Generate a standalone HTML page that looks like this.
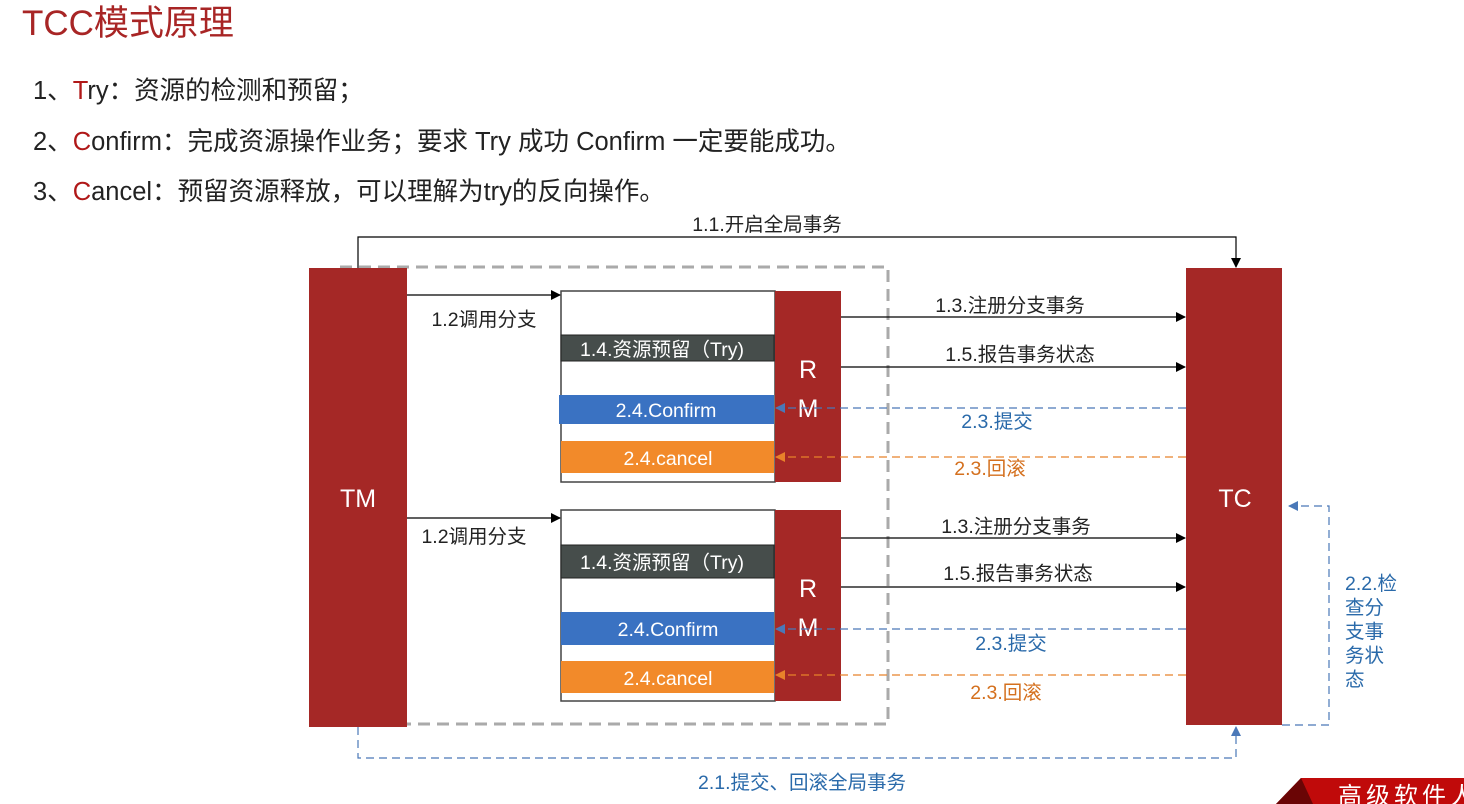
<!DOCTYPE html>
<html><head><meta charset="utf-8"><style>
html,body{margin:0;padding:0;background:#fff;}
svg{display:block;}
text{font-family:"Liberation Sans","Noto Sans CJK SC",sans-serif;}
</style></head><body>
<svg width="1464" height="804" viewBox="0 0 1464 804" xmlns="http://www.w3.org/2000/svg">
<defs>
<marker id="ab" markerWidth="10" markerHeight="10" refX="9" refY="5" orient="auto" markerUnits="userSpaceOnUse"><path d="M0,0 L10,5 L0,10 z" fill="#000"/></marker>
<marker id="abl" markerWidth="10" markerHeight="10" refX="9" refY="5" orient="auto" markerUnits="userSpaceOnUse"><path d="M0,0 L10,5 L0,10 z" fill="#4a78b8"/></marker>
<marker id="aor" markerWidth="10" markerHeight="10" refX="9" refY="5" orient="auto" markerUnits="userSpaceOnUse"><path d="M0,0 L10,5 L0,10 z" fill="#e8822a"/></marker>
</defs>
<text x="22" y="35" font-size="35" fill="#a82525">TCC模式原理</text>
<g font-size="25.5" fill="#222">
<text x="33" y="99">1、<tspan fill="#b01818">T</tspan>ry：资源的检测和预留；</text>
<text x="33" y="150">2、<tspan fill="#b01818">C</tspan>onfirm：完成资源操作业务；要求 Try 成功 Confirm 一定要能成功。</text>
<text x="33" y="200">3、<tspan fill="#b01818">C</tspan>ancel：预留资源释放，可以理解为try的反向操作。</text>
</g>
<rect x="340" y="267" width="548" height="457" fill="none" stroke="#aaa" stroke-width="3" stroke-dasharray="12,7"/>
<polyline points="358,268 358,237 1236,237 1236,267" fill="none" stroke="#000" stroke-width="1.2" marker-end="url(#ab)"/>
<g font-size="19.5">
<text x="767" y="231" text-anchor="middle" fill="#222">1.1.开启全局事务</text>
</g>
<rect x="309" y="268" width="98" height="459" fill="#a52826"/>
<text x="358" y="507" font-size="25" fill="#fff" text-anchor="middle">TM</text>
<rect x="1186" y="268" width="96" height="457" fill="#a52826"/>
<text x="1235" y="507" font-size="25" fill="#fff" text-anchor="middle">TC</text>

<g font-size="19.5">
<rect x="561" y="291" width="214" height="191" fill="#fff" stroke="#444" stroke-width="1.5"/>
<rect x="775" y="291" width="66" height="191" fill="#a52826"/>
<text x="808" y="378" font-size="25" fill="#fff" text-anchor="middle">R</text>
<text x="808" y="417" font-size="25" fill="#fff" text-anchor="middle">M</text>
<line x1="407" y1="295" x2="560" y2="295" stroke="#000" stroke-width="1.2" marker-end="url(#ab)"/>
<text x="484" y="326" text-anchor="middle" fill="#222">1.2调用分支</text>
<rect x="561" y="335" width="213" height="26" fill="#464d4b" stroke="#222"/>
<text x="662" y="356" fill="#fff" text-anchor="middle">1.4.资源预留（Try)</text>
<rect x="559" y="395" width="215" height="29" fill="#3a72c2"/>
<text x="666" y="417" fill="#fff" text-anchor="middle">2.4.Confirm</text>
<rect x="561" y="441" width="213" height="32" fill="#f28a2a"/>
<text x="668" y="465" fill="#fff" text-anchor="middle">2.4.cancel</text>
<line x1="841" y1="317" x2="1185" y2="317" stroke="#000" stroke-width="1.2" marker-end="url(#ab)"/>
<text x="1010" y="312" text-anchor="middle" fill="#222">1.3.注册分支事务</text>
<line x1="841" y1="367" x2="1185" y2="367" stroke="#000" stroke-width="1.2" marker-end="url(#ab)"/>
<text x="1020" y="361" text-anchor="middle" fill="#222">1.5.报告事务状态</text>
<line x1="1186" y1="408" x2="776" y2="408" stroke="#4a78b8" stroke-width="1.2" stroke-dasharray="8,5" marker-end="url(#abl)"/>
<text x="997" y="428" text-anchor="middle" fill="#2a6aaa">2.3.提交</text>
<line x1="1186" y1="457" x2="776" y2="457" stroke="#e8822a" stroke-width="1.2" stroke-dasharray="8,5" marker-end="url(#aor)"/>
<text x="990" y="475" text-anchor="middle" fill="#d4701e">2.3.回滚</text>

<rect x="561" y="510" width="214" height="191" fill="#fff" stroke="#444" stroke-width="1.5"/>
<rect x="775" y="510" width="66" height="191" fill="#a52826"/>
<text x="808" y="597" font-size="25" fill="#fff" text-anchor="middle">R</text>
<text x="808" y="636" font-size="25" fill="#fff" text-anchor="middle">M</text>
<line x1="407" y1="518" x2="560" y2="518" stroke="#000" stroke-width="1.2" marker-end="url(#ab)"/>
<text x="474" y="543" text-anchor="middle" fill="#222">1.2调用分支</text>
<rect x="561" y="545" width="213" height="33" fill="#464d4b" stroke="#222"/>
<text x="662" y="569" fill="#fff" text-anchor="middle">1.4.资源预留（Try)</text>
<rect x="561" y="612" width="213" height="33" fill="#3a72c2"/>
<text x="668" y="636" fill="#fff" text-anchor="middle">2.4.Confirm</text>
<rect x="561" y="661" width="213" height="32" fill="#f28a2a"/>
<text x="668" y="685" fill="#fff" text-anchor="middle">2.4.cancel</text>
<line x1="841" y1="538" x2="1185" y2="538" stroke="#000" stroke-width="1.2" marker-end="url(#ab)"/>
<text x="1016" y="533" text-anchor="middle" fill="#222">1.3.注册分支事务</text>
<line x1="841" y1="587" x2="1185" y2="587" stroke="#000" stroke-width="1.2" marker-end="url(#ab)"/>
<text x="1018" y="580" text-anchor="middle" fill="#222">1.5.报告事务状态</text>
<line x1="1186" y1="629" x2="776" y2="629" stroke="#4a78b8" stroke-width="1.2" stroke-dasharray="8,5" marker-end="url(#abl)"/>
<text x="1011" y="650" text-anchor="middle" fill="#2a6aaa">2.3.提交</text>
<line x1="1186" y1="675" x2="776" y2="675" stroke="#e8822a" stroke-width="1.2" stroke-dasharray="8,5" marker-end="url(#aor)"/>
<text x="1006" y="699" text-anchor="middle" fill="#d4701e">2.3.回滚</text>
</g>

<polyline points="1282,725 1329,725 1329,506 1289,506" fill="none" stroke="#4a78b8" stroke-width="1.2" stroke-dasharray="8,5" marker-end="url(#abl)"/>
<g font-size="19.5" fill="#2a6aaa">
<text x="1345" y="590">2.2.检</text>
<text x="1345" y="614">查分</text>
<text x="1345" y="638">支事</text>
<text x="1345" y="662">务状</text>
<text x="1345" y="686">态</text>
</g>
<polyline points="358,727 358,758 1236,758 1236,727" fill="none" stroke="#4a78b8" stroke-width="1.2" stroke-dasharray="8,5" marker-end="url(#abl)"/>
<text x="802" y="789" font-size="19.5" text-anchor="middle" fill="#2a6aaa">2.1.提交、回滚全局事务</text>

<polygon points="1276,804 1301,778 1464,778 1464,804" fill="#c00a0a"/>
<polygon points="1276,804 1301,778 1313,804" fill="#6a0505"/>
<text x="1338" y="804" font-size="24" fill="#fff" font-family="Liberation Serif,'Noto Serif CJK SC',serif" letter-spacing="4">高级软件人</text>
</svg>
</body></html>
